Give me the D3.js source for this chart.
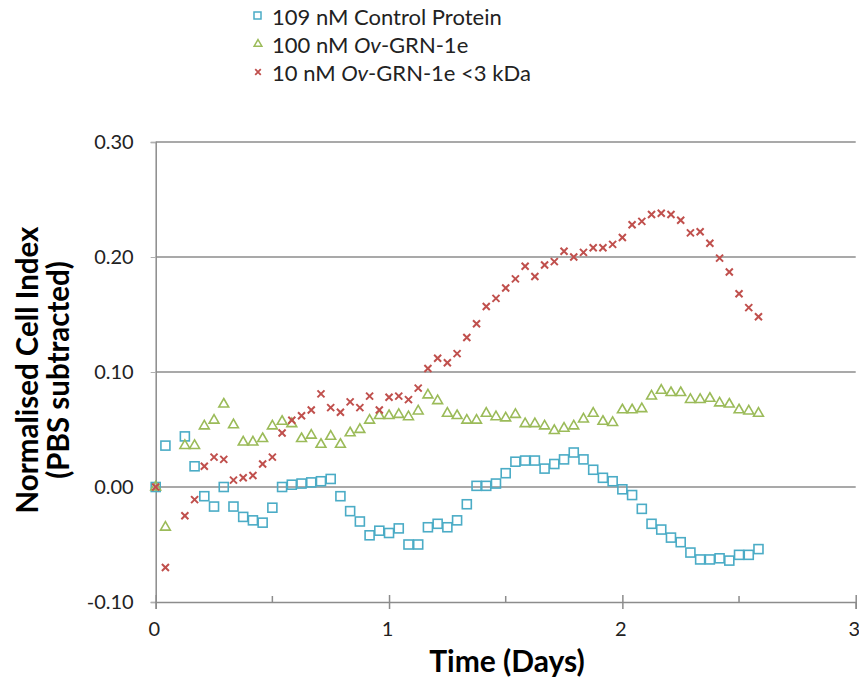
<!DOCTYPE html>
<html>
<head>
<meta charset="utf-8">
<script src="https://cdn.jsdelivr.net/npm/d3@7"></script>
<style>
  body { margin: 0; background: #fff; }
  svg { display: block; font-family: Lato, "Open Sans", sans-serif; }
</style>
</head>
<body>
<div id="chart"></div>
<script>
// sampling times in hours (the 2 h reading is absent in the source)
var hours = [0, 1, 3, 4, 5, 6, 7, 8, 9, 10, 11, 12, 13, 14, 15, 16, 17, 18, 19, 20,
  21, 22, 23, 24, 25, 26, 27, 28, 29, 30, 31, 32, 33, 34, 35, 36, 37, 38, 39, 40,
  41, 42, 43, 44, 45, 46, 47, 48, 49, 50, 51, 52, 53, 54, 55, 56, 57, 58, 59, 60, 61, 62];

var controlProtein = [0.000, 0.036, 0.044, 0.018, -0.008, -0.017, 0.000, -0.017, -0.026, -0.029,
  -0.031, -0.018, 0.000, 0.002, 0.003, 0.004, 0.005, 0.007, -0.008, -0.021,
  -0.030, -0.042, -0.038, -0.040, -0.036, -0.050, -0.050, -0.035, -0.032, -0.035,
  -0.029, -0.015, 0.001, 0.001, 0.003, 0.012, 0.022, 0.023, 0.023, 0.016,
  0.020, 0.024, 0.030, 0.024, 0.015, 0.008, 0.005, -0.002, -0.007, -0.019,
  -0.032, -0.037, -0.044, -0.048, -0.057, -0.063, -0.063, -0.062, -0.064, -0.059,
  -0.059, -0.054];

var ovGrn100 = [0.000, -0.035, 0.036, 0.036, 0.053, 0.058, 0.072, 0.054, 0.039, 0.039,
  0.042, 0.053, 0.057, 0.055, 0.042, 0.045, 0.037, 0.044, 0.037, 0.047,
  0.050, 0.058, 0.062, 0.062, 0.063, 0.061, 0.066, 0.080, 0.075, 0.064,
  0.062, 0.058, 0.058, 0.064, 0.061, 0.060, 0.063, 0.055, 0.055, 0.053,
  0.049, 0.051, 0.053, 0.059, 0.064, 0.057, 0.056, 0.067, 0.067, 0.068,
  0.079, 0.084, 0.082, 0.082, 0.076, 0.076, 0.077, 0.073, 0.072, 0.067,
  0.066, 0.064];

var ovGrn10Low = [0.000, -0.070, -0.025, -0.011, 0.018, 0.026, 0.024, 0.006, 0.008, 0.010,
  0.020, 0.026, 0.047, 0.058, 0.062, 0.067, 0.081, 0.069, 0.065, 0.074,
  0.069, 0.079, 0.067, 0.078, 0.079, 0.076, 0.086, 0.103, 0.112, 0.108,
  0.116, 0.130, 0.142, 0.157, 0.164, 0.173, 0.181, 0.192, 0.183, 0.193,
  0.196, 0.205, 0.200, 0.204, 0.208, 0.208, 0.211, 0.217, 0.228, 0.231,
  0.237, 0.238, 0.237, 0.232, 0.221, 0.222, 0.212, 0.199, 0.187, 0.168,
  0.156, 0.148];

var yTicks = [-0.10, 0.00, 0.10, 0.20, 0.30];
var xTicks = [0, 1, 2, 3];
var xMinorTicks = [0.5, 1.5, 2.5];

var width = 859, height = 682;
var svg = d3.select("#chart").append("svg").attr("width", width).attr("height", height);

var xScale = d3.scaleLinear().domain([0, 3]).range([155.7, 855.7]);
var yScale = d3.scaleLinear().domain([-0.1, 0.3]).range([602, 142]);

function toData(values)
{
  return values.map(function(v, i) { return { day: hours[i] / 24, value: v }; });
}

// gridlines
svg.append("g").selectAll("line").data(yTicks.filter(function(t) { return t > -0.1; }))
  .enter().append("line")
  .attr("x1", xScale(0)).attr("x2", xScale(3))
  .attr("y1", function(d) { return yScale(d); }).attr("y2", function(d) { return yScale(d); })
  .attr("stroke", "#8c8c8c").attr("stroke-width", 1.5);

// y axis
var yAxisCall = d3.axisLeft(yScale).tickValues(yTicks).tickSize(5).tickPadding(17)
  .tickFormat(function(d) { return d3.format(".2f")(d).replace("\u2212", "-"); });
var gy = svg.append("g").attr("transform", "translate(" + xScale(0) + ",0)").call(yAxisCall);
gy.select(".domain").attr("stroke", "#8c8c8c").attr("stroke-width", 1.5);
gy.selectAll(".tick line").attr("stroke", "#b0b0b0");
gy.selectAll(".tick text").attr("font-size", 20).attr("fill", "#222")
  .attr("font-family", "Lato, sans-serif");

// x axis
var xAxisCall = d3.axisBottom(xScale).tickValues(xTicks).tickSize(7).tickPadding(13)
  .tickFormat(d3.format("d"));
var gx = svg.append("g").attr("transform", "translate(0," + yScale(-0.1) + ")").call(xAxisCall);
gx.select(".domain").attr("stroke", "#8c8c8c").attr("stroke-width", 1.5);
gx.selectAll(".tick line").attr("stroke", "#8c8c8c").attr("stroke-width", 1.5).attr("y1", -7);
gx.selectAll(".tick text").attr("font-size", 20).attr("fill", "#222").attr("dx", -2)
  .attr("font-family", "Lato, sans-serif");
gx.selectAll(".minor").data(xMinorTicks).enter().append("line").attr("class", "minor")
  .attr("x1", function(d) { return xScale(d); }).attr("x2", function(d) { return xScale(d); })
  .attr("y1", 0).attr("y2", -6).attr("stroke", "#8c8c8c").attr("stroke-width", 1.5);

// control protein - squares
svg.append("g").selectAll("rect").data(toData(controlProtein)).enter().append("rect")
  .attr("x", function(d) { return xScale(d.day) - 4.5; })
  .attr("y", function(d) { return yScale(d.value) - 4.5; })
  .attr("width", 9).attr("height", 9)
  .attr("fill", "none").attr("stroke", "#4bacc6").attr("stroke-width", 1.6);

// 100 nM - triangles
var tri = d3.symbol().type(d3.symbolTriangle).size(42);
svg.append("g").selectAll("path").data(toData(ovGrn100)).enter().append("path")
  .attr("d", tri)
  .attr("transform", function(d) { return "translate(" + xScale(d.day) + "," + yScale(d.value) + ")"; })
  .attr("fill", "none").attr("stroke", "#9bbb59").attr("stroke-width", 1.6);

// 10 nM <3 kDa - crosses
var cross = d3.symbol().type(d3.symbolX).size(34);
svg.append("g").selectAll("path").data(toData(ovGrn10Low)).enter().append("path")
  .attr("d", cross)
  .attr("transform", function(d) { return "translate(" + xScale(d.day) + "," + yScale(d.value) + ")"; })
  .attr("fill", "none").attr("stroke", "#c0504d").attr("stroke-width", 2);

// axis titles
svg.append("text")
  .attr("transform", "translate(" + 38 + "," + 370 + ") rotate(-90)")
  .attr("text-anchor", "middle").attr("font-size", 29.5).attr("font-weight", "bold")
  .text("Normalised Cell Index");
svg.append("text")
  .attr("transform", "translate(" + 69 + "," + 370 + ") rotate(-90)")
  .attr("text-anchor", "middle").attr("font-size", 29.5).attr("font-weight", "bold")
  .text("(PBS subtracted)");
svg.append("text")
  .attr("x", 507).attr("y", 672)
  .attr("text-anchor", "middle").attr("font-size", 30).attr("font-weight", "bold")
  .text("Time (Days)");

// legend
var legend = svg.append("g").attr("font-size", 22).attr("fill", "#222");
var rows = [25, 53, 81];
legend.append("rect").attr("x", 254).attr("y", rows[0] - 13).attr("width", 7).attr("height", 7)
  .attr("fill", "none").attr("stroke", "#4bacc6").attr("stroke-width", 1.5);
legend.append("path").attr("d", d3.symbol().type(d3.symbolTriangle).size(26))
  .attr("transform", "translate(258," + (rows[1] - 9) + ")")
  .attr("fill", "none").attr("stroke", "#9bbb59").attr("stroke-width", 1.5);
legend.append("path").attr("d", d3.symbol().type(d3.symbolX).size(22))
  .attr("transform", "translate(258," + (rows[2] - 9) + ")")
  .attr("fill", "none").attr("stroke", "#c0504d").attr("stroke-width", 1.8);

legend.append("text").attr("x", 272).attr("y", rows[0]).text("109 nM Control Protein");
var t2 = legend.append("text").attr("x", 272).attr("y", rows[1]);
t2.append("tspan").text("100 nM ");
t2.append("tspan").attr("font-style", "italic").text("Ov");
t2.append("tspan").text("-GRN-1e");
var t3 = legend.append("text").attr("x", 272).attr("y", rows[2]);
t3.append("tspan").text("10 nM ");
t3.append("tspan").attr("font-style", "italic").text("Ov");
t3.append("tspan").text("-GRN-1e <3 kDa");
</script>
</body>
</html>
